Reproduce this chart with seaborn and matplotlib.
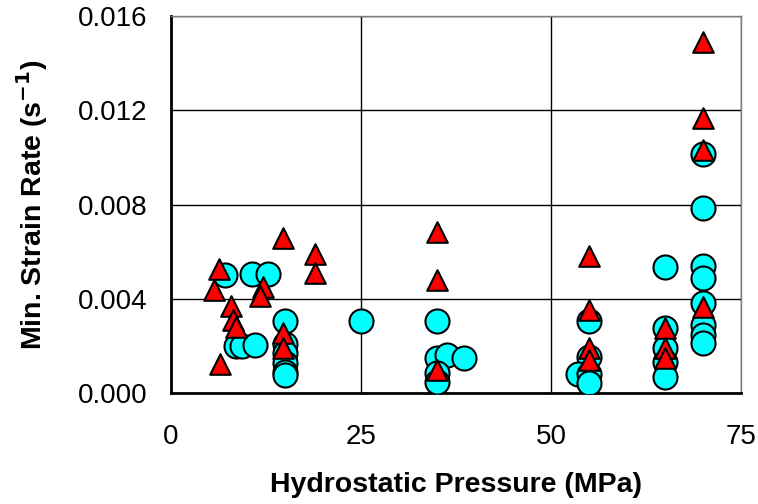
import matplotlib
matplotlib.use('Agg')
import matplotlib.pyplot as plt
import seaborn as sns

# cyan circles
circle_pressure = [7.1, 10.6, 12.8, 8.6, 9.3, 11.1,
                   15, 15, 15, 15, 15, 15, 25,
                   35, 35, 36.3, 38.6, 35, 35,
                   55, 55, 53.6, 55, 55,
                   65, 65, 65, 65, 65,
                   70, 70, 70, 70, 70, 70, 70, 70]
circle_rate = [0.0050, 0.00504, 0.00504, 0.0020, 0.0020, 0.00204,
               0.00306, 0.0021, 0.00168, 0.00127, 0.0009, 0.00076, 0.00306,
               0.00307, 0.00147, 0.00161, 0.00147, 0.00084, 0.00048,
               0.00307, 0.00154, 0.0008, 0.0008, 0.00041,
               0.00536, 0.00275, 0.0019, 0.00133, 0.00069,
               0.01014, 0.00784, 0.00539, 0.00487, 0.00383, 0.00289, 0.00246, 0.00211]

# red triangles
tri_pressure = [6.3, 5.7, 7.85, 8.2, 8.5, 6.5, 12.1, 11.7,
                14.8, 14.8, 14.8, 18.9, 18.9,
                35, 35, 35,
                55, 55, 55, 55,
                65, 65, 65,
                70, 70, 70, 70]
tri_rate = [0.00525, 0.00438, 0.0037, 0.0031, 0.0028, 0.00123, 0.0045, 0.0041,
            0.0066, 0.00253, 0.0019, 0.0059, 0.0051,
            0.00685, 0.0048, 0.00098,
            0.00581, 0.00352, 0.0019, 0.0014,
            0.00275, 0.0019, 0.00147,
            0.0149, 0.01166, 0.0103, 0.00364]

x_ticks = [0, 25, 50, 75]
y_ticks = [0.000, 0.004, 0.008, 0.012, 0.016]

sns.set_style('white')
plt.rcParams['font.family'] = ['Liberation Sans', 'DejaVu Sans']
plt.rcParams['text.color'] = 'black'
plt.rcParams['axes.labelcolor'] = 'black'

fig = plt.figure(figsize=(7.58, 5.04), dpi=100)
ax = fig.add_axes([0.2256, 0.2202, 0.752, 0.748])

sns.scatterplot(x=circle_pressure, y=circle_rate, ax=ax, marker='o', s=300,
                color='#00FFFF', edgecolor='black', linewidth=1.5, zorder=3)
sns.scatterplot(x=tri_pressure, y=tri_rate, ax=ax, marker='^', s=220,
                color='#FF0000', edgecolor='black', linewidth=1.5, zorder=4)

ax.set_xlim(0, 75)
ax.set_ylim(0, 0.016)
ax.set_xticks(x_ticks)
ax.set_yticks(y_ticks)
ax.set_yticklabels([f'{v:.3f}' for v in y_ticks])
ax.grid(True, color='black', linewidth=1)
ax.set_axisbelow(True)

for side in ['left', 'bottom']:
    ax.spines[side].set_color('black')
    ax.spines[side].set_linewidth(2)
for side in ['top', 'right']:
    ax.spines[side].set_color('#808080')
    ax.spines[side].set_linewidth(1)

ax.tick_params(axis='both', direction='inout', length=10, width=1.5,
               labelsize=20, colors='black')
ax.tick_params(axis='x', pad=17)
ax.tick_params(axis='y', pad=12)

ax.set_xlabel('Hydrostatic Pressure (MPa)', fontsize=20.5, fontweight='bold', labelpad=16)
ax.set_ylabel('Min. Strain Rate (s$^{\\mathbf{-1}}$)', fontsize=20.5, fontweight='bold', labelpad=20)

fig.savefig('out.png', dpi=100)
